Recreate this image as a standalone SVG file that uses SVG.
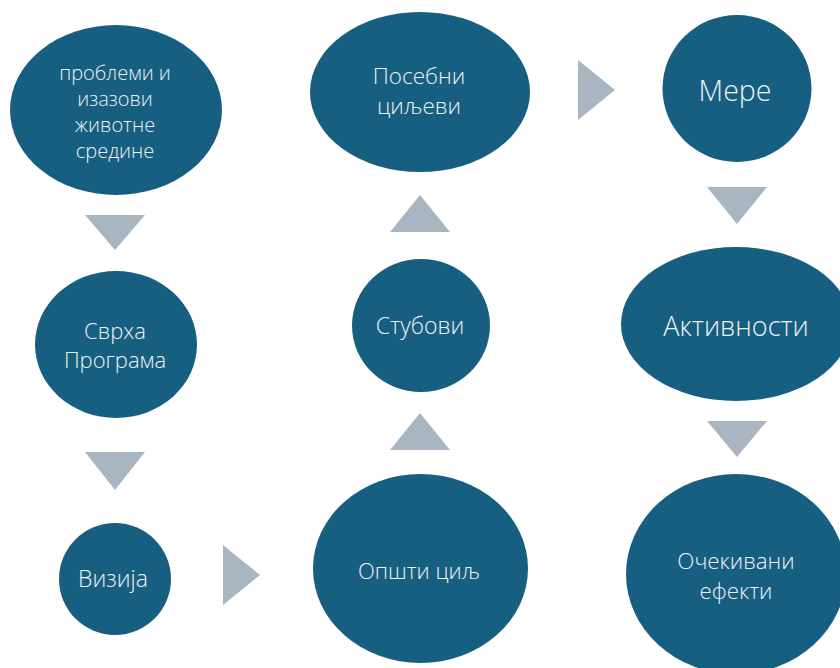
<svg xmlns="http://www.w3.org/2000/svg" width="840" height="668" viewBox="0 0 840 668">
<style>
.n{fill:#175f80}
.t{font-family:"Open Sans","Noto Sans","DejaVu Sans",sans-serif;font-weight:350;fill:#eef2f5;text-anchor:middle;dominant-baseline:central}
.a{fill:#a9b6c2}
</style>
<rect width="840" height="668" fill="#ffffff"/>
<g id="connectors">
<polygon class="a" points="85,215 145,215 115,250"/>
<polygon class="a" points="85,452 145,452 115,490"/>
<polygon class="a" points="223,545 223,605 260,575"/>
<polygon class="a" points="390,450 450,450 420,413"/>
<polygon class="a" points="390,232 450,232 420,195"/>
<polygon class="a" points="578,60 578,120 615,90"/>
<polygon class="a" points="707,187 767,187 737,224"/>
<polygon class="a" points="707,421 767,421 737,457"/>
</g>
<g id="n1">
<ellipse class="n" cx="116" cy="110" rx="106" ry="85"/>
<text class="t" x="116" font-size="20"><tspan x="115" y="72">проблеми и</tspan><tspan x="115" y="98">изазови</tspan><tspan x="115" y="124">животне</tspan><tspan x="115" y="150">средине</tspan></text>
</g>
<g id="n2">
<ellipse class="n" cx="116" cy="344.5" rx="81" ry="73.5"/>
<text class="t" font-size="22"><tspan x="115" y="329.5">Сврха</tspan><tspan x="115" y="358.5">Програма</tspan></text>
</g>
<g id="n3">
<ellipse class="n" cx="115" cy="579" rx="56" ry="56"/>
<text class="t" x="113" y="578" font-size="23">Визија</text>
</g>
<g id="n4">
<ellipse class="n" cx="420.5" cy="568.5" rx="107.5" ry="94.5"/>
<text class="t" x="419" y="570" font-size="22">Општи циљ</text>
</g>
<g id="n5">
<ellipse class="n" cx="421" cy="325.5" rx="69" ry="66.5"/>
<text class="t" x="420" y="325" font-size="23">Стубови</text>
</g>
<g id="n6">
<ellipse class="n" cx="420" cy="92" rx="110" ry="80"/>
<text class="t" font-size="22.5"><tspan x="419" y="75">Посебни</tspan><tspan x="419" y="105">циљеви</tspan></text>
</g>
<g id="n7">
<ellipse class="n" cx="737" cy="88.5" rx="74.5" ry="73.5"/>
<text class="t" x="735" y="90" font-size="28.5">Мере</text>
</g>
<g id="n8">
<ellipse class="n" cx="736" cy="324" rx="115" ry="77"/>
<text class="t" x="736" y="325" font-size="27">Активности</text>
</g>
<g id="n9">
<ellipse class="n" cx="736" cy="574" rx="110" ry="100"/>
<text class="t" font-size="22.3"><tspan x="736" y="560">Очекивани</tspan><tspan x="736" y="590">ефекти</tspan></text>
</g>
</svg>
